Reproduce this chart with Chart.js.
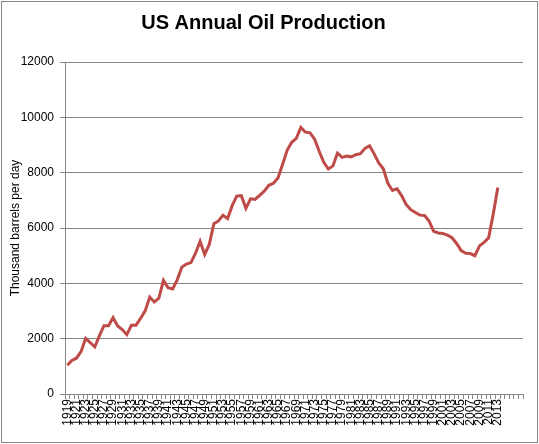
<!DOCTYPE html>
<html>
<head>
<meta charset="utf-8">
<script src="https://cdn.jsdelivr.net/npm/chart.js@4.4.1/dist/chart.umd.min.js"></script>
<style>
    body { margin: 0; background: #fff; }
    #wrap { position: relative; width: 539px; height: 444px; }
</style>
</head>
<body>
<div id="wrap"><canvas id="oilChart" width="539" height="444"></canvas></div>
<script>
// years on the category axis (blank slots after 2013, as in the sheet)
const years = [];
for (let y = 1919; y <= 2018; y++) years.push(y <= 2013 ? String(y) : '');

// thousand barrels per day, 1919-2013
const production = [
    1037, 1214, 1294, 1531, 2007, 1860, 1700, 2100, 2469, 2469,
    2760, 2460, 2332, 2145, 2484, 2488, 2730, 3004, 3505, 3327,
    3466, 4107, 3842, 3799, 4125, 4584, 4695, 4749, 5088, 5520,
    5046, 5407, 6158, 6256, 6458, 6342, 6807, 7151, 7170, 6710,
    7054, 7035, 7183, 7332, 7542, 7614, 7804, 8295, 8810, 9096,
    9238, 9637, 9463, 9441, 9208, 8774, 8375, 8132, 8245, 8707,
    8552, 8597, 8572, 8649, 8688, 8879, 8971, 8680, 8349, 8140,
    7613, 7355, 7417, 7171, 6847, 6662, 6560, 6465, 6452, 6252,
    5881, 5822, 5801, 5744, 5649, 5441, 5184, 5086, 5077, 5000,
    5353, 5482, 5650, 6502, 7467
];

const yTicks = [0, 2000, 4000, 6000, 8000, 10000, 12000];

const axisGray = '#868686';

// white background + thin frame round the whole chart
const frame = {
    id: 'frame',
    beforeDraw(chart) {
        const ctx = chart.ctx;
        ctx.save();
        ctx.fillStyle = '#fff';
        ctx.fillRect(0, 0, chart.width, chart.height);
        ctx.strokeStyle = axisGray;
        ctx.lineWidth = 1;
        ctx.strokeRect(1.5, 1.5, chart.width - 3, chart.height - 3);
        ctx.restore();
    }
};

const ctx = document.getElementById('oilChart').getContext('2d');
const oilChart = new Chart(ctx, {
    type: 'line',
    data: {
        labels: years,
        datasets: [{
            label: 'US Annual Oil Production',
            data: production,
            borderColor: '#BE4B48',
            backgroundColor: '#BE4B48',
            borderWidth: 3,
            pointRadius: 0,
            tension: 0,
            fill: false
        }]
    },
    options: {
        responsive: false,
        animation: false,
        devicePixelRatio: 1,
        layout: { padding: { left: 4, right: 16, top: 0, bottom: 3 } },
        plugins: {
            legend: { display: false },
            tooltip: { enabled: false },
            title: {
                display: true,
                text: 'US Annual Oil Production',
                color: '#000',
                font: { family: 'Liberation Sans', size: 20, weight: 'bold' },
                padding: { top: 11, bottom: 27 }
            }
        },
        scales: {
            x: {
                type: 'category',
                offset: true,
                grid: {
                    display: true,
                    offset: true,
                    drawOnChartArea: false,
                    drawTicks: true,
                    tickLength: 5,
                    color: axisGray
                },
                border: { display: true, color: axisGray },
                ticks: {
                    autoSkip: false,
                    minRotation: 90,
                    maxRotation: 90,
                    padding: 0,
                    color: '#000',
                    font: { family: 'Liberation Sans', size: 12 },
                    callback: function (value, index) {
                        return index % 2 === 0 ? this.getLabelForValue(value) : '';
                    }
                },
                afterFit: function (scale) { scale.height = 47; }
            },
            y: {
                min: 0,
                max: 12000,
                afterBuildTicks: function (scale) {
                    scale.ticks = yTicks.map(v => ({ value: v }));
                },
                grid: {
                    color: axisGray,
                    drawTicks: true,
                    tickLength: 5
                },
                border: { display: true, color: axisGray },
                ticks: {
                    color: '#000',
                    padding: 6,
                    font: { family: 'Liberation Sans', size: 12 },
                    callback: v => String(v)
                },
                title: {
                    display: true,
                    text: 'Thousand barrels per day',
                    color: '#000',
                    padding: { top: 4, bottom: 0 },
                    font: { family: 'Liberation Sans', size: 12 }
                },
                afterFit: function (scale) { scale.width = 61; }
            }
        }
    },
    plugins: [frame]
});
</script>
</body>
</html>
